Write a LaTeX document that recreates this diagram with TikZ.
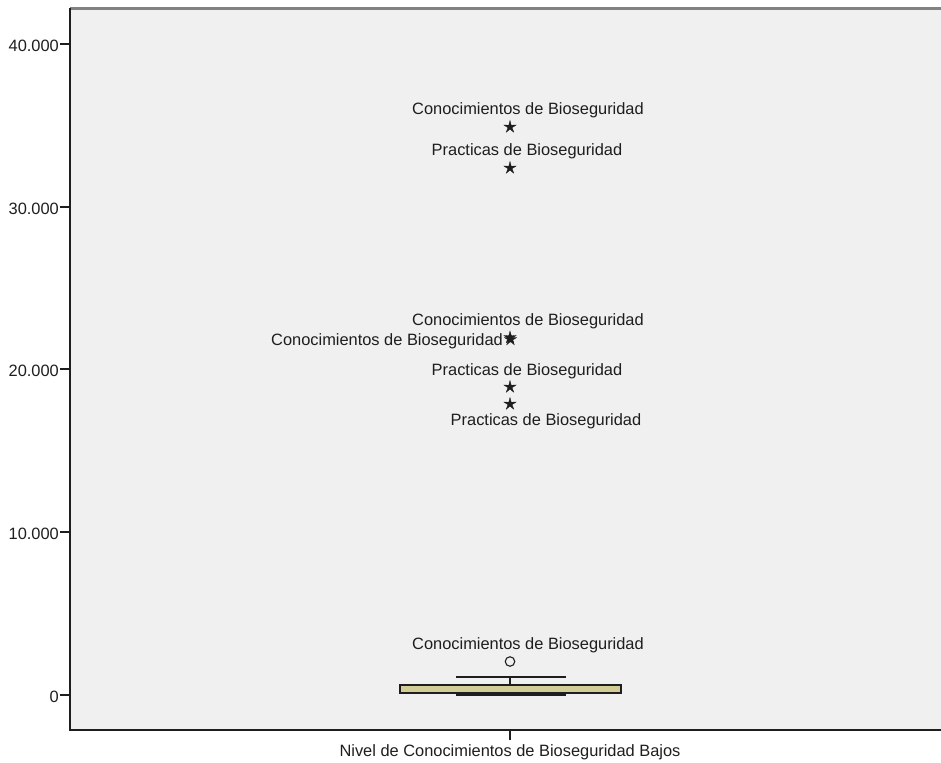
\documentclass[tikz,border=0pt]{standalone}
\usepackage{fontspec}
\setmainfont{Liberation Sans}
\usetikzlibrary{shapes.geometric}
\definecolor{plotbg}{RGB}{240,240,240}
\definecolor{boxfill}{RGB}{210,205,150}
\definecolor{txt}{RGB}{30,30,30}
\definecolor{topline}{RGB}{130,130,130}
\begin{document}
\begin{tikzpicture}[x=1pt,y=-1pt,
  lbl/.style={font=\fontsize{16.4}{19}\selectfont, text=txt, inner sep=0pt},
  axisline/.style={draw=txt, line width=1.4pt},
  tickline/.style={draw=txt, line width=1.4pt},
  outstar/.style={star, star points=5, star point ratio=3, fill=txt, draw=txt, line width=0.3pt, inner sep=0pt, minimum size=13pt},
  outcirc/.style={circle, draw=txt, line width=1.1pt, fill=plotbg, inner sep=0pt, minimum size=9.5pt},
  boxpart/.style={draw=txt, line width=2pt, fill=boxfill},
  whisk/.style={draw=txt, line width=1.3pt}]
\useasboundingbox (0,0) rectangle (941,762);
% plot area
\fill[plotbg] (70,8) rectangle (941,730);
\draw[topline, line width=2.2pt] (70,8.6) -- (941,8.6);
\coordinate (tl) at (70,8);
\coordinate (bl) at (70,730);
\coordinate (br) at (941,730);
\draw[axisline] (tl) -- (bl) -- (br);
% y ticks
\foreach \v/\yy/\nm in {0/695/t0, 10.000/532/t1, 20.000/369/t2, 30.000/207/t3, 40.000/44/t4}{
  \coordinate (\nm a) at (60,\yy);
  \coordinate (\nm b) at (70,\yy);
  \draw[tickline] (\nm a) -- (\nm b);
  \node[lbl, anchor=east] (\nm) at (59,\yy+2) {\v};
}
% x tick and label
\coordinate (xa) at (510,730);
\coordinate (xb) at (510,740);
\draw[tickline] (xa) -- (xb);
\node[lbl, anchor=base] (xlab) at (510,756) {Nivel de Conocimientos de Bioseguridad Bajos};
% box plot
\coordinate (wtop) at (510,677);
\coordinate (btop) at (510,684.5);
\draw[whisk] (456,677) -- (566,677);
\draw[whisk] (wtop) -- (btop);
\draw[boxpart] (400,684.5) rectangle (621,693);
\draw[draw=txt, line width=3pt] (456,694.2) -- (566,694.2);
% outliers
\node[outcirc] (c1) at (510,661.5) {};
\node[lbl, anchor=base] (lc1) at (528,649) {Conocimientos de Bioseguridad};
\node[outstar] (s1) at (510,127) {};
\node[lbl, anchor=base] (ls1) at (528,115) {Conocimientos de Bioseguridad};
\node[outstar] (s2) at (510,168) {};
\node[lbl, anchor=base] (ls2) at (527,156) {Practicas de Bioseguridad};
\node[outstar] (s3) at (510,337.5) {};
\node[outstar] (s4) at (510.5,339.5) {};
\node[lbl, anchor=base] (ls3) at (528,325) {Conocimientos de Bioseguridad};
\node[lbl, anchor=base east] (ls4) at (503,345) {Conocimientos de Bioseguridad};
\node[outstar] (s5) at (510,387) {};
\node[lbl, anchor=base] (ls5) at (527,375) {Practicas de Bioseguridad};
\node[outstar] (s6) at (510,404) {};
\node[lbl, anchor=base] (ls6) at (546,425) {Practicas de Bioseguridad};
\end{tikzpicture}
\end{document}
